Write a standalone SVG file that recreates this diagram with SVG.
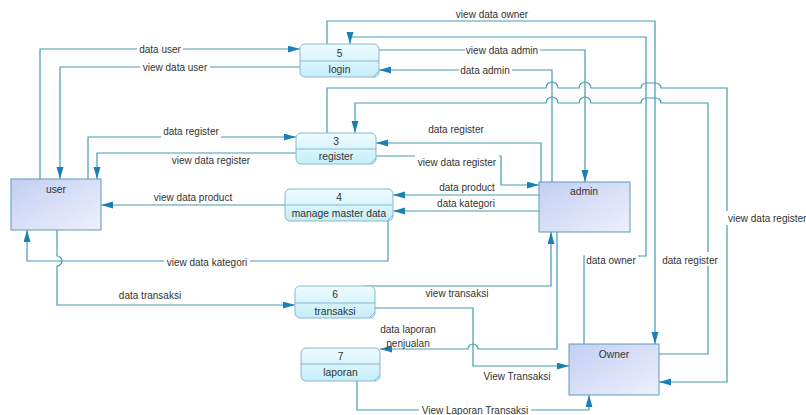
<svg xmlns="http://www.w3.org/2000/svg" width="806" height="415" viewBox="0 0 806 415">
<defs>
<linearGradient id="gp" x1="0" y1="0" x2="0" y2="1"><stop offset="0" stop-color="#eefcfe"/><stop offset="1" stop-color="#c4eef8"/></linearGradient>
<linearGradient id="ge" x1="0" y1="0" x2="1" y2="1"><stop offset="0" stop-color="#c2cef3"/><stop offset="1" stop-color="#eef0fc"/></linearGradient>
<marker id="ar" markerWidth="12" markerHeight="8" refX="12" refY="3.5" orient="auto" markerUnits="userSpaceOnUse"><path d="M0,0 L12,3.5 L0,7 Z" fill="#1a80b6"/></marker>
<marker id="as" markerWidth="12" markerHeight="8" refX="12" refY="3.5" orient="auto-start-reverse" markerUnits="userSpaceOnUse"><path d="M0,0 L12,3.5 L0,7 Z" fill="#1a80b6"/></marker>
</defs>
<style>
.ln{fill:none;stroke:#459cb4;stroke-width:1.2}
.ae{marker-end:url(#ar)}
.lbl{font-family:"Liberation Sans",Arial,sans-serif;font-size:10px;fill:#333;text-anchor:middle}
.bg{fill:#fff}
.pr{fill:url(#gp);stroke:#8ab6d2;stroke-width:1}
.dv{stroke:#8ab6d2;stroke-width:1;fill:none}
.en{fill:url(#ge);stroke:#5a9db8;stroke-width:1}
.nt{font-family:"Liberation Sans",Arial,sans-serif;font-size:10.3px;fill:#333;text-anchor:middle}
</style>
<rect width="806" height="415" fill="#fff"/>
<g id="connectors">
<path class="ln ae" d="M40,179 V49 H300"/>
<path class="ln ae" d="M300,67 H60 V179"/>
<path class="ln ae" d="M88,179 V137 H296"/>
<path class="ln ae" d="M296,153 H97 V179"/>
<path class="ln ae" d="M285,205 H101"/>
<path class="ln ae" d="M388,221 V261 H27 V230"/>
<path class="ln ae" d="M57,230 V256 a5,5 0 0 1 0,10 V305 H295"/>
<path class="ln ae" d="M327,44 V21 H655 V344"/>
<path class="ln ae" d="M584,344 V256 H646 V37 H350 V44"/>
<path class="ln ae" d="M379,50 H585 V182"/>
<path class="ln ae" d="M552,182 V70 H379"/>
<path class="ln ae" d="M327,133 V88 H546 a6,6 0 0 1 12,0 H579 a6,6 0 0 1 12,0 H641 a5,5 0 0 1 5,-5 H656 a5,5 0 0 1 5,5 H727 V382 H659"/>
<path class="ln" marker-start="url(#as)" d="M355,133 V103 H546 a6,6 0 0 1 12,0 H579 a6,6 0 0 1 12,0 H641 a5,5 0 0 1 5,-5 H656 a5,5 0 0 1 5,5 H708 V354 H659"/>
<path class="ln ae" d="M541,182 V143 H376"/>
<path class="ln ae" d="M376,156 H501 V185 H539"/>
<path class="ln ae" d="M539,195 H393"/>
<path class="ln ae" d="M539,211 H393"/>
<path class="ln ae" d="M365,286 H551 V232"/>
<path class="ln ae" d="M557,232 V349 H478 a5,5 0 0 0 -10,0 H380"/>
<path class="ln ae" d="M375,308 H473 V366 H569"/>
<path class="ln ae" d="M357,381 V410 H589 V395"/>
</g>
<g id="labels">
<rect class="bg" x="137" y="43" width="46" height="12"/><text class="lbl" x="160" y="52.5">data user</text>
<rect class="bg" x="140" y="61" width="70" height="12"/><text class="lbl" x="175" y="70.5">view data user</text>
<rect class="bg" x="161" y="125" width="60" height="14"/><text class="lbl" x="191" y="135">data register</text>
<text class="lbl" x="211" y="164">view data register</text>
<text class="lbl" x="193" y="200.5">view data product</text>
<rect class="bg" x="164" y="255" width="86" height="13"/><text class="lbl" x="207" y="265.5">view data kategori</text>
<text class="lbl" x="150" y="298.5">data transaksi</text>
<text class="lbl" x="492" y="17.5">view data owner</text>
<rect class="bg" x="465" y="44" width="75" height="12"/><text class="lbl" x="502" y="53.5">view data admin</text>
<rect class="bg" x="459" y="64" width="53" height="12"/><text class="lbl" x="485" y="73.5">data admin</text>
<text class="lbl" x="456" y="132.5">data register</text>
<rect class="bg" x="415" y="153" width="84" height="14"/><text class="lbl" x="457" y="166">view data register</text>
<text class="lbl" x="467" y="190.5">data product</text>
<text class="lbl" x="466" y="206.5">data kategori</text>
<text class="lbl" x="457" y="296.5">view transaksi</text>
<text class="lbl" x="408" y="332.5">data laporan</text>
<text class="lbl" x="408" y="346.5">penjualan</text>
<text class="lbl" x="517" y="379.5">View Transaksi</text>
<rect class="bg" x="419" y="404" width="112" height="12"/><text class="lbl" x="475" y="413.5">View Laporan Transaksi</text>
<rect class="bg" x="585" y="252" width="53" height="13"/><text class="lbl" x="611" y="263.5">data owner</text>
<rect class="bg" x="660" y="252" width="60" height="14"/><text class="lbl" x="690" y="263.5">data register</text>
<rect class="bg" x="726" y="211" width="80" height="14"/><text class="lbl" x="728" y="222" style="text-anchor:start">view data register</text>
</g>
<g id="user"><rect class="en" x="11" y="179" width="90" height="51"/><text class="nt" x="56" y="193">user</text></g>
<g id="admin"><rect class="en" x="539" y="182" width="91" height="50"/><text class="nt" x="584" y="195">admin</text></g>
<g id="owner"><rect class="en" x="569" y="344" width="90" height="51"/><text class="nt" x="614" y="358">Owner</text></g>
<g id="p5"><rect class="pr" x="300" y="44" width="79" height="33" rx="5"/><path class="dv" d="M300,61 H379 M373,77 L379,71"/><text class="nt" x="339.5" y="57">5</text><text class="nt" x="339.5" y="73">login</text></g>
<g id="p3"><rect class="pr" x="296" y="133" width="80" height="31" rx="5"/><path class="dv" d="M296,149 H376 M370,164 L376,158"/><text class="nt" x="336" y="145">3</text><text class="nt" x="336" y="160">register</text></g>
<g id="p4"><rect class="pr" x="285" y="189" width="108" height="32" rx="5"/><path class="dv" d="M285,205 H393 M387,221 L393,215"/><text class="nt" x="339" y="201">4</text><text class="nt" x="339" y="217">manage master data</text></g>
<g id="p6"><rect class="pr" x="295" y="286" width="80" height="32" rx="5"/><path class="dv" d="M295,303 H375 M369,318 L375,312"/><text class="nt" x="335" y="298">6</text><text class="nt" x="335" y="315">transaksi</text></g>
<g id="p7"><rect class="pr" x="301" y="348" width="79" height="33" rx="5"/><path class="dv" d="M301,364 H380 M374,381 L380,375"/><text class="nt" x="340.5" y="360">7</text><text class="nt" x="340.5" y="376">laporan</text></g>
</svg>
